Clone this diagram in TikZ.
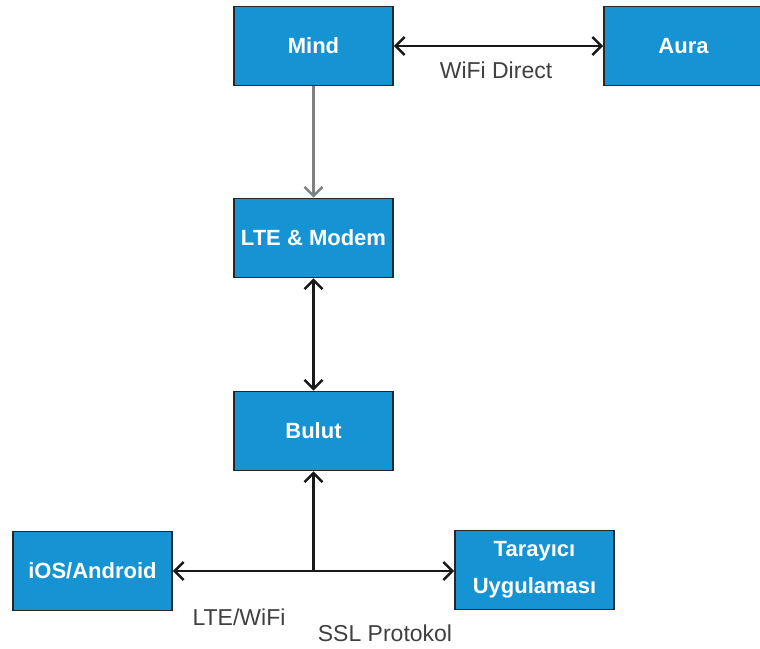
\documentclass[tikz,border=0pt]{standalone}
\usepackage{fontspec}
\setmainfont{Liberation Sans}
\usetikzlibrary{arrows.meta}

\definecolor{boxblue}{RGB}{22,147,211}

\begin{document}
\begin{tikzpicture}[x=1pt,y=-1pt,node distance=192pt,thick,
    main/.style = {shape=rectangle, draw=black!85, line width=1.6pt, fill=boxblue, align=center,
                   minimum width=159pt, minimum height=79pt, text=white, font=\fontsize{22}{37}\selectfont\bfseries},
    link/.style = {line width=2.6pt, black!90, -{Straight Barb[length=9pt,width=18pt]}},
    both/.style = {{Straight Barb[length=9pt,width=18pt]}-{Straight Barb[length=9pt,width=18pt]}},
    lbl/.style = {font=\fontsize{23}{27}\selectfont, text=black!75}]
    \useasboundingbox (0,0) rectangle (760,648);

    \node (mind) [main] at (313.5,46) {Mind};
    \node (aura) [main,right of=mind,node distance=370pt] {Aura};
    \node (modem) [main,below of=mind] {LTE \& Modem};
    \node (bulut) [main,below of=modem,node distance=193pt] {Bulut};
    \node (mobil) [main,below of=bulut,node distance=140pt,xshift=-221pt] {iOS/Android};
    \node (tarayici) [main,below of=bulut,node distance=140pt,xshift=221pt,yshift=1pt] {Tarayıcı\\Uygulaması};
    \coordinate (hub) at (bulut.center |- mobil.center);

    \draw [link,both] (mind) -- (aura);
    \draw [link,black!50] (mind) -- (modem);
    \draw [link,both] (modem) -- (bulut);
    \draw [link] (hub) -- (bulut);
    \draw [link] (hub) -- (mobil);
    \draw [link] (hub) -- (tarayici.west |- hub);

    \node (wifi) [lbl] at (496,70) {WiFi Direct};
    \node (lte) [lbl] at (239,617) {LTE/WiFi};
    \node (ssl) [lbl] at (385,633) {SSL Protokol};
\end{tikzpicture}
\end{document}
